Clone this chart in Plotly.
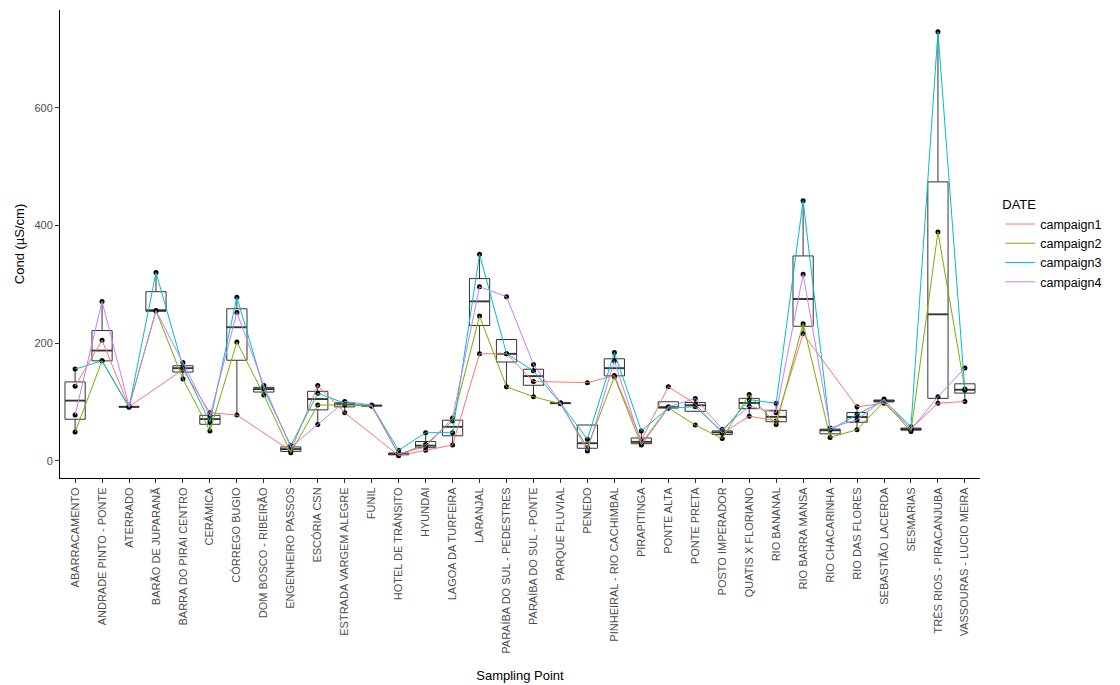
import numpy as np
import plotly.graph_objects as go

categories = [
    "ABARRACAMENTO", "ANDRADE PINTO - PONTE", "ATERRADO", "BARÃO DE JUPARANÃ",
    "BARRA DO PIRÁI CENTRO", "CERÂMICA", "CÓRREGO BUGIO", "DOM BOSCO - RIBEIRÃO",
    "ENGENHEIRO PASSOS", "ESCÓRIA CSN", "ESTRADA VARGEM ALEGRE", "FUNIL",
    "HOTEL DE TRÂNSITO", "HYUNDAI", "LAGOA DA TURFEIRA", "LARANJAL",
    "PARAÍBA DO SUL - PEDESTRES", "PARAÍBA DO SUL - PONTE", "PARQUE FLUVIAL", "PENEDO",
    "PINHEIRAL - RIO CACHIMBAL", "PIRAPITINGA", "PONTE ALTA", "PONTE PRETA",
    "POSTO IMPERADOR", "QUATIS X FLORIANO", "RIO BANANAL", "RIO BARRA MANSA",
    "RIO CHACARINHA", "RIO DAS FLORES", "SEBASTIÃO LACERDA", "SESMARIAS",
    "TRÊS RIOS - PIRACANJUBA", "VASSOURAS - LUCIO MEIRA",
]

campaign1 = [127, 205, 92, None, 155, 82, 78, None, 17, 128, 82, None, 9, 18, 27, 182,
             182, 135, None, 133, 145, 35, 126, 97, 47, 76, 68, 216, None, 92, 98, 55, 98, 101]
campaign2 = [49, 170, 92, 255, 139, 51, 202, 112, 14, 95, 95, 93, 11, 28, 68, 246,
             126, 109, 97, 23, 143, 27, 90, 61, 38, 113, 62, 233, 40, 53, 101, 50, 389, 122]
campaign3 = [156, 170, 91, 320, 160, 66, 278, 122, 26, 115, 98, 94, 18, 48, 48, 351,
             182, 153, 98, 37, 184, 51, 90, 92, 50, 104, 98, 442, 52, 79, 103, 58, 729, 120]
campaign4 = [78, 271, 93, 255, 167, 76, 252, 128, 23, 62, 101, 95, 12, 24, 73, 296,
             279, 164, 99, 17, 170, 30, 92, 106, 54, 93, 82, 317, 56, 70, 105, 53, 109, 158]

series_names = ["campaign1", "campaign2", "campaign3", "campaign4"]
series_colors = ["#F8766D", "#7CAE00", "#00BFC4", "#C77CFF"]
series = [campaign1, campaign2, campaign3, campaign4]

# box statistics (R type-7 quantiles, 1.5*IQR whiskers like ggplot2)
q1s, meds, q3s, lows, highs = [], [], [], [], []
for i in range(len(categories)):
    vals = np.array([s[i] for s in series if s[i] is not None], dtype=float)
    q1, med, q3 = np.percentile(vals, [25, 50, 75])
    iqr = q3 - q1
    lo = vals[vals >= q1 - 1.5 * iqr].min()
    hi = vals[vals <= q3 + 1.5 * iqr].max()
    q1s.append(q1); meds.append(med); q3s.append(q3)
    lows.append(min(lo, q1)); highs.append(max(hi, q3))

fig = go.Figure()

fig.add_trace(go.Box(
    x=categories, q1=q1s, median=meds, q3=q3s, lowerfence=lows, upperfence=highs,
    width=0.75, whiskerwidth=0, fillcolor="rgba(0,0,0,0)",
    line=dict(color="#333333", width=1), boxpoints=False,
    showlegend=False, hoverinfo="skip",
))

# thicker median bars
fig.add_trace(go.Scatter(
    x=categories, y=meds, mode="markers", showlegend=False, hoverinfo="skip",
    marker=dict(symbol="line-ew", size=14.4, line=dict(color="#333333", width=1.8)),
))

# black points
for s in series:
    fig.add_trace(go.Scatter(
        x=categories, y=s, mode="markers", showlegend=False, hoverinfo="skip",
        marker=dict(color="black", size=5),
    ))

# campaign lines
for name, col, s in zip(series_names, series_colors, series):
    fig.add_trace(go.Scatter(
        x=categories, y=s, mode="lines", name=name, connectgaps=True,
        line=dict(color=col, width=1),
    ))

fig.update_layout(
    width=1120, height=685,
    paper_bgcolor="white", plot_bgcolor="white",
    margin=dict(l=52, r=148, t=2, b=215, autoexpand=False),
    font=dict(family="Liberation Sans, Arial, sans-serif", size=11, color="black"),
    legend=dict(
        title=dict(text="DATE", font=dict(size=13, color="black")),
        x=1.022, y=0.61, xanchor="left", yanchor="top",
        font=dict(size=12.5, color="black"), itemwidth=30,
        tracegroupgap=2, bgcolor="rgba(0,0,0,0)",
    ),
    xaxis=dict(
        type="category", categoryorder="array", categoryarray=categories,
        range=[-0.56, len(categories) - 0.44], automargin=False,
        showline=True, linecolor="black", linewidth=1,
        ticks="outside", ticklen=4, tickcolor="#333333",
        tickangle=-90, tickfont=dict(size=11, color="#4D4D4D"),
        showgrid=False, zeroline=False,
        title=dict(text="Sampling Point", font=dict(size=13, color="black"), standoff=18),
    ),
    yaxis=dict(
        range=[-29, 766], automargin=False,
        tickvals=[0, 200, 400, 600],
        showline=True, linecolor="black", linewidth=1,
        ticks="outside", ticklen=4, tickcolor="#333333",
        tickfont=dict(size=11, color="#4D4D4D"),
        showgrid=False, zeroline=False,
        title=dict(text="Cond (µS/cm)", font=dict(size=13, color="black"), standoff=6),
    ),
)

fig.write_html("out.html")
